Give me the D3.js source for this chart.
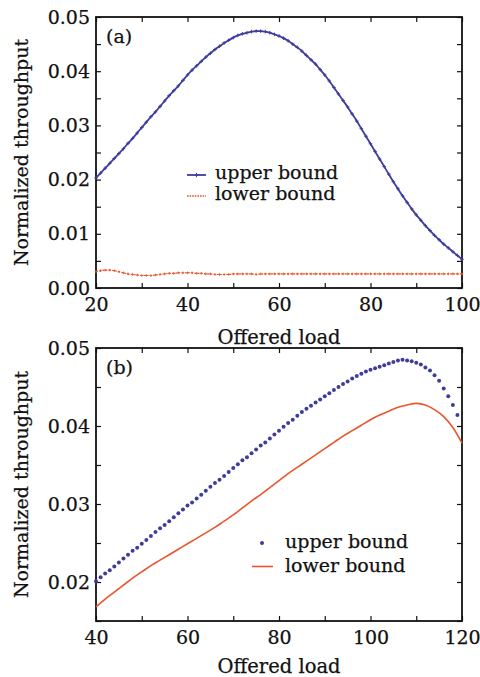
<!DOCTYPE html>
<html>
<head>
<meta charset="utf-8">
<script src="https://cdn.jsdelivr.net/npm/d3@7"></script>
<style>
  html, body { margin: 0; padding: 0; background: #fff; }
  text { font-family: "DejaVu Serif", serif; fill: #111; stroke: #111; stroke-width: 0.25px; }
  .tick line { stroke: #111; stroke-width: 1.2; }
  .tick text { font-size: 19px; }
</style>
</head>
<body>
<svg id="chart" width="480" height="677"></svg>
<script>
// panel (a): offered load 20..100, one point per unit
var loadA = d3.range(20, 101, 1);
var upperA = [
  .0203, .0212, .0221, .0230, .0239, .0248, .0257, .0267, .0276, .0286,
  .0296, .0306, .0316, .0325, .0335, .0345, .0355, .0364, .0373, .0383,
  .0393, .0402, .0410, .0418, .0426, .0433, .0440, .0446, .0452, .0457,
  .0462, .0466, .0469, .0471, .0473, .0474, .0474, .0473, .0471, .0468,
  .0465, .0461, .0456, .0450, .0444, .0437, .0429, .0421, .0413, .0403,
  .0393, .0382, .0370, .0358, .0346, .0334, .0321, .0308, .0294, .0280,
  .0266, .0252, .0238, .0224, .0210, .0196, .0183, .0170, .0158, .0146,
  .0135, .0125, .0115, .0106, .0097, .0089, .0081, .0074, .0067, .0060,
  .0053
];
var lowerA = [
  .0030, .0032, .0033, .0033, .0032, .0030, .0028, .0026, .0025, .0024,
  .0023, .0023, .0023, .0024, .0025, .0026, .0027, .0027, .0028, .0028,
  .0028, .0028, .0027, .0027, .0026, .0026, .0025, .0025, .0025, .0025,
  .0026, .0026, .0026, .0026, .0026, .0025, .0026, .0026, .0026, .0026,
  .0026, .0026, .0026, .0026, .0026, .0026, .0026, .0026, .0026, .0026,
  .0026, .0026, .0026, .0026, .0026, .0026, .0026, .0026, .0026, .0026,
  .0026, .0026, .0026, .0026, .0026, .0026, .0026, .0026, .0026, .0026,
  .0026, .0026, .0026, .0026, .0026, .0026, .0026, .0026, .0026, .0026,
  .0026
];
var xTicksA = [20, 30, 40, 50, 60, 70, 80, 90, 100];
var xLabelsA = [20, 40, 60, 80, 100];
var yTicksA = [0, 0.005, 0.01, 0.015, 0.02, 0.025, 0.03, 0.035, 0.04, 0.045, 0.05];
var yLabelsA = [0, 0.01, 0.02, 0.03, 0.04, 0.05];

// panel (b): upper bound dots 40..119, lower bound line every 2 units
var loadUpperB = d3.range(40, 120, 1);
var upperB = [
  .0201, .0206, .0211, .0215, .0220, .0225, .0230, .0235, .0240, .0244,
  .0249, .0254, .0259, .0264, .0269, .0273, .0278, .0283, .0288, .0293,
  .0298, .0302, .0307, .0312, .0317, .0322, .0327, .0331, .0336, .0341,
  .0346, .0351, .0356, .0360, .0365, .0370, .0375, .0379, .0384, .0389,
  .0394, .0399, .0404, .0408, .0413, .0418, .0422, .0426, .0430, .0434,
  .0438, .0442, .0446, .0450, .0454, .0457, .0461, .0464, .0467, .0470,
  .0472, .0474, .0476, .0478, .0480, .0482, .0484, .0485, .0484, .0483,
  .0481, .0479, .0475, .0471, .0465, .0458, .0448, .0438, .0427, .0414
];
var loadLowerB = d3.range(40, 121, 2);
var lowerB = [
  .0168, .0178, .0187, .0196, .0205, .0213, .0221, .0228, .0235, .0242,
  .0249, .0256, .0263, .0270, .0278, .0286, .0295, .0304, .0312, .0321,
  .0330, .0339, .0347, .0355, .0363, .0371, .0379, .0387, .0394, .0401,
  .0408, .0414, .0419, .0424, .0427, .0429, .0427, .0421, .0412, .0398,
  .0378
];
var xTicksB = [40, 50, 60, 70, 80, 90, 100, 110, 120];
var xLabelsB = [40, 60, 80, 100, 120];
var yTicksB = [0.015, 0.02, 0.025, 0.03, 0.035, 0.04, 0.045, 0.05];
var yLabelsB = [0.02, 0.03, 0.04, 0.05];

var seriesNames = ["upper bound", "lower bound"];
var blue = "#3f3d9c", red = "#e9552f";

var svg = d3.select("#chart");
var fmt = d3.format(".2f");

function zip(xs, ys) { return xs.map(function (v, i) { return [v, ys[i]]; }); }

function panel(cfg) {
  var x = d3.scaleLinear().domain(cfg.xDomain).range([cfg.left, cfg.right]);
  var y = d3.scaleLinear().domain(cfg.yDomain).range([cfg.bottom, cfg.top]);
  var g = svg.append("g");

  function has(list, d) { return list.some(function (v) { return Math.abs(v - d) < 1e-9; }); }

  g.append("g")
      .attr("transform", "translate(0," + cfg.bottom + ")")
      .call(d3.axisBottom(x).tickValues(cfg.xTicks).tickSize(-5).tickPadding(cfg.xPad)
        .tickFormat(function (d) { return has(cfg.xLabels, d) ? d : ""; }));
  g.append("g")
      .attr("transform", "translate(0," + cfg.top + ")")
      .call(d3.axisTop(x).tickValues(cfg.xTicks).tickSize(-5).tickFormat(""));
  g.append("g")
      .attr("transform", "translate(" + cfg.left + ",0)")
      .call(d3.axisLeft(y).tickValues(cfg.yTicks).tickSize(-5).tickPadding(6)
        .tickFormat(function (d) { return has(cfg.yLabels, d) ? fmt(d) : ""; }));
  g.append("g")
      .attr("transform", "translate(" + cfg.right + ",0)")
      .call(d3.axisRight(y).tickValues(cfg.yTicks).tickSize(-5).tickFormat(""));
  g.selectAll(".domain").remove();

  g.append("rect")
      .attr("x", cfg.left).attr("y", cfg.top)
      .attr("width", cfg.right - cfg.left).attr("height", cfg.bottom - cfg.top)
      .attr("fill", "none").attr("stroke", "#111").attr("stroke-width", 1.8);

  g.append("text")
      .attr("x", (cfg.left + cfg.right) / 2).attr("y", cfg.titleY)
      .attr("text-anchor", "middle").style("font-size", "19.5px")
      .text("Offered load");
  g.append("text")
      .attr("transform", "translate(28," + (cfg.top + cfg.bottom) / 2 + ") rotate(-90)")
      .attr("text-anchor", "middle").style("font-size", "19px")
      .text("Normalized throughput");
  g.append("text")
      .attr("x", cfg.left + 10).attr("y", cfg.top + 26)
      .style("font-size", "19px")
      .text(cfg.tag);

  return { g: g, x: x, y: y };
}

function plusPath(s) { return "M" + (-s) + ",0H" + s + "M0," + (-s) + "V" + s; }

// ---- panel (a)
var a = panel({
  left: 96, right: 462, top: 17, bottom: 288,
  xDomain: [20, 100], yDomain: [0, 0.05],
  xTicks: xTicksA, xLabels: xLabelsA, yTicks: yTicksA, yLabels: yLabelsA,
  xPad: 10, titleY: 344, tag: "(a)"
});
var lineA = d3.line().curve(d3.curveMonotoneX)
    .x(function (d) { return a.x(d[0]); }).y(function (d) { return a.y(d[1]); });

a.g.append("path").datum(zip(loadA, upperA))
    .attr("d", lineA).attr("fill", "none").attr("stroke", blue).attr("stroke-width", 1.8);
a.g.selectAll(".mu").data(zip(loadA, upperA)).enter().append("path")
    .attr("class", "mu")
    .attr("transform", function (d) { return "translate(" + a.x(d[0]) + "," + a.y(d[1]) + ")"; })
    .attr("d", plusPath(1.8)).attr("stroke", blue).attr("stroke-width", 1);

a.g.append("path").datum(zip(loadA, lowerA))
    .attr("d", lineA).attr("fill", "none").attr("stroke", red).attr("stroke-width", 1.1)
    .attr("stroke-dasharray", "2,1.2");
a.g.selectAll(".ml").data(zip(loadA, lowerA)).enter().append("path")
    .attr("class", "ml")
    .attr("transform", function (d) { return "translate(" + a.x(d[0]) + "," + a.y(d[1]) + ")"; })
    .attr("d", plusPath(1.3)).attr("stroke", red).attr("stroke-width", 0.9);

// legend (a)
var legA = a.g.append("g");
legA.append("line").attr("x1", 187).attr("x2", 206).attr("y1", 175).attr("y2", 175)
    .attr("stroke", blue).attr("stroke-width", 1.8);
legA.append("path").attr("transform", "translate(196.5,175)").attr("d", plusPath(2.2))
    .attr("stroke", blue).attr("stroke-width", 1);
legA.append("line").attr("x1", 187).attr("x2", 206).attr("y1", 196).attr("y2", 196)
    .attr("stroke", red).attr("stroke-width", 1.3).attr("stroke-dasharray", "1.6,1");
legA.selectAll("text").data(seriesNames).enter().append("text")
    .attr("x", 215).attr("y", function (d, i) { return 179 + i * 21; })
    .style("font-size", "19px").text(function (d) { return d; });

// ---- panel (b)
var b = panel({
  left: 96, right: 462, top: 348, bottom: 621,
  xDomain: [40, 120], yDomain: [0.015, 0.05],
  xTicks: xTicksB, xLabels: xLabelsB, yTicks: yTicksB, yLabels: yLabelsB,
  xPad: 10, titleY: 673, tag: "(b)"
});
var lineB = d3.line().curve(d3.curveMonotoneX)
    .x(function (d) { return b.x(d[0]); }).y(function (d) { return b.y(d[1]); });

b.g.append("path").datum(zip(loadLowerB, lowerB))
    .attr("d", lineB).attr("fill", "none").attr("stroke", red).attr("stroke-width", 1.6);
b.g.selectAll(".du").data(zip(loadUpperB, upperB)).enter().append("circle")
    .attr("cx", function (d) { return b.x(d[0]); })
    .attr("cy", function (d) { return b.y(d[1]); })
    .attr("r", 2).attr("fill", blue);

// legend (b)
var legB = b.g.append("g");
legB.append("circle").attr("cx", 262).attr("cy", 543).attr("r", 2).attr("fill", blue);
legB.append("line").attr("x1", 252).attr("x2", 273).attr("y1", 566.5).attr("y2", 566.5)
    .attr("stroke", red).attr("stroke-width", 1.6);
legB.selectAll("text").data(seriesNames).enter().append("text")
    .attr("x", 285).attr("y", function (d, i) { return 548 + i * 24; })
    .style("font-size", "19px").text(function (d) { return d; });
</script>
</body>
</html>
